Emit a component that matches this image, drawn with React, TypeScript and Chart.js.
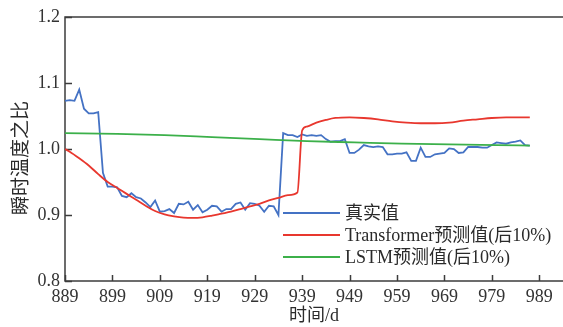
import { useEffect, useRef } from "react";
import { Chart, registerables } from "chart.js";

Chart.register(...registerables);

// Measured temperature ratio, one value per day starting at firstDay
const firstDay = 889;
const actualValues = [
  1.073, 1.074, 1.073, 1.09, 1.061, 1.054, 1.054, 1.056, 0.964, 0.943,
  0.943, 0.942, 0.929, 0.927, 0.933, 0.927, 0.925, 0.919, 0.912, 0.922,
  0.905, 0.906, 0.909, 0.903, 0.917, 0.916, 0.92, 0.908, 0.915, 0.904,
  0.908, 0.914, 0.913, 0.905, 0.909, 0.909, 0.917, 0.919, 0.908, 0.918,
  0.917, 0.914, 0.905, 0.914, 0.913, 0.9, 1.024, 1.021, 1.021, 1.018,
  1.022, 1.02, 1.021, 1.02, 1.021, 1.015, 1.011, 1.012, 1.012, 1.015,
  0.994, 0.994, 0.999, 1.006, 1.004, 1.003, 1.004, 1.003, 0.992, 0.992,
  0.993, 0.993, 0.995, 0.982, 0.982, 1.002, 0.988, 0.988, 0.992, 0.993,
  0.994, 1.001, 1.0, 0.994, 0.995, 1.003, 1.003, 1.003, 1.002, 1.002,
  1.006, 1.01, 1.009, 1.008, 1.01, 1.011, 1.013, 1.006, 1.005,
];

// Transformer prediction
const transformerDays = [
  889, 890, 892, 894, 896, 898, 900, 902, 904, 906, 908, 910, 912, 914, 916,
  918, 920, 922, 924, 926, 928, 930, 932, 934, 936, 938, 939, 940, 942, 944,
  946, 949, 952, 955, 958, 961, 964, 967, 970, 973, 976, 979, 982, 985, 987,
];
const transformerValues = [
  1.0, 0.996, 0.986, 0.975, 0.962, 0.95, 0.941, 0.932, 0.923, 0.914, 0.906,
  0.901, 0.898, 0.896, 0.8955, 0.8965, 0.899, 0.902, 0.905, 0.909, 0.913,
  0.917, 0.922, 0.926, 0.93, 0.934, 1.028, 1.034, 1.04, 1.044, 1.047, 1.048,
  1.047, 1.045, 1.042, 1.04, 1.039, 1.039, 1.04, 1.043, 1.045, 1.047, 1.048,
  1.048, 1.048,
];

// LSTM prediction
const lstmDays = [889, 900, 910, 920, 930, 940, 950, 960, 970, 980, 987];
const lstmValues = [
  1.024, 1.023, 1.021, 1.018, 1.015, 1.012, 1.01, 1.008, 1.007, 1.006, 1.005,
];

const xTickValues = [889, 899, 909, 919, 929, 939, 949, 959, 969, 979, 989];
const yTickValues = [0.8, 0.9, 1.0, 1.1, 1.2];
const seriesLabels = ["真实值", "Transformer预测值(后10%)", "LSTM预测值(后10%)"];
const seriesColors = ["#4472c4", "#e8372e", "#3cb04a"];
const xTitle = "时间/d";
const yTitle = "瞬时温度之比";

const SERIF = '"Liberation Serif", "Times New Roman", "Noto Sans CJK SC", serif';
const AXIS_COLOR = "#3c3c3c";

const framePlugin = {
  id: "frame",
  beforeDatasetsDraw(chart: any) {
    const { ctx, chartArea, width } = chart;
    const { left, top, bottom } = chartArea;
    const xs = chart.scales.x;
    const ys = chart.scales.y;
    ctx.save();
    ctx.strokeStyle = AXIS_COLOR;
    ctx.lineWidth = 1.5;
    ctx.beginPath();
    ctx.moveTo(width, top);
    ctx.lineTo(left, top);
    ctx.lineTo(left, bottom);
    ctx.lineTo(width, bottom);
    ctx.stroke();
    ctx.beginPath();
    xs.ticks.forEach((t: any) => {
      const px = Math.round(xs.getPixelForValue(t.value)) + 0.5;
      ctx.moveTo(px, bottom);
      ctx.lineTo(px, bottom - 6);
    });
    ys.ticks.forEach((t: any) => {
      const py = Math.round(ys.getPixelForValue(t.value)) + 0.5;
      ctx.moveTo(left, py);
      ctx.lineTo(left + 7, py);
    });
    ctx.stroke();
    ctx.restore();
  },
  afterDraw(chart: any) {
    const { ctx, chartArea } = chart;
    const { left, right, top, bottom } = chartArea;
    ctx.save();
    ctx.fillStyle = "#2a2a2a";
    // axis titles
    ctx.font = `18px ${SERIF}`;
    ctx.textAlign = "center";
    ctx.textBaseline = "middle";
    ctx.fillText(xTitle, (left + right) / 2, 316);
    ctx.save();
    ctx.translate(22, (top + bottom) / 2 + 9);
    ctx.rotate(-Math.PI / 2);
    ctx.font = `19px ${SERIF}`;
    ctx.fillText(yTitle, 0, 0);
    ctx.restore();
    // legend
    const lx = left + 218;
    const rows = [213, 235, 257];
    ctx.font = `18px ${SERIF}`;
    ctx.textAlign = "left";
    chart.data.datasets.forEach((ds: any, i: number) => {
      const y = rows[i];
      ctx.strokeStyle = ds.borderColor;
      ctx.lineWidth = 1.8;
      ctx.beginPath();
      ctx.moveTo(lx, y);
      ctx.lineTo(lx + 57, y);
      ctx.stroke();
      ctx.fillText(ds.label, lx + 62, y + 1);
    });
    ctx.restore();
  },
};

export default function App() {
  const canvasRef = useRef<HTMLCanvasElement | null>(null);

  useEffect(() => {
    document.body.style.margin = "0";
    const canvas = canvasRef.current;
    if (!canvas) return;

    const chart = new Chart(canvas, {
      type: "line",
      data: {
        datasets: [
          {
            label: seriesLabels[0],
            data: actualValues.map((v, i) => ({ x: firstDay + i, y: v })),
            borderColor: seriesColors[0],
            borderWidth: 1.8,
            pointRadius: 0,
            tension: 0,
            order: 2,
          },
          {
            label: seriesLabels[1],
            data: transformerDays.map((d, i) => ({ x: d, y: transformerValues[i] })),
            borderColor: seriesColors[1],
            borderWidth: 1.8,
            pointRadius: 0,
            cubicInterpolationMode: "monotone",
            order: 1,
          },
          {
            label: seriesLabels[2],
            data: lstmDays.map((d, i) => ({ x: d, y: lstmValues[i] })),
            borderColor: seriesColors[2],
            borderWidth: 1.8,
            pointRadius: 0,
            cubicInterpolationMode: "monotone",
            order: 0,
          },
        ],
      },
      options: {
        animation: false,
        responsive: false,
        devicePixelRatio: 1,
        layout: { padding: { top: 17, right: 0, left: 0, bottom: 0 } },
        plugins: {
          legend: { display: false },
          tooltip: { enabled: false },
        },
        scales: {
          x: {
            type: "linear",
            min: 889,
            max: 994,
            afterBuildTicks: (scale: any) => {
              scale.ticks = xTickValues.map((v) => ({ value: v }));
            },
            afterFit: (scale: any) => {
              scale.height = 46;
            },
            grid: { display: false, drawTicks: false },
            border: { display: false },
            ticks: {
              autoSkip: false,
              maxRotation: 0,
              padding: 5,
              color: "#333",
              font: { family: SERIF, size: 18 },
              callback: (v: any) => String(v),
            },
          },
          y: {
            type: "linear",
            min: 0.8,
            max: 1.2,
            afterBuildTicks: (scale: any) => {
              scale.ticks = yTickValues.map((v) => ({ value: v }));
            },
            afterFit: (scale: any) => {
              scale.width = 65;
            },
            grid: { display: false, drawTicks: false },
            border: { display: false },
            ticks: {
              padding: 5,
              color: "#333",
              font: { family: SERIF, size: 18 },
              callback: (v: any) => Number(v).toFixed(1),
            },
          },
        },
      },
      plugins: [framePlugin],
    });

    return () => chart.destroy();
  }, []);

  return (
    <div style={{ width: 563, height: 327 }}>
      <canvas ref={canvasRef} width={563} height={327} style={{ display: "block" }} />
    </div>
  );
}
